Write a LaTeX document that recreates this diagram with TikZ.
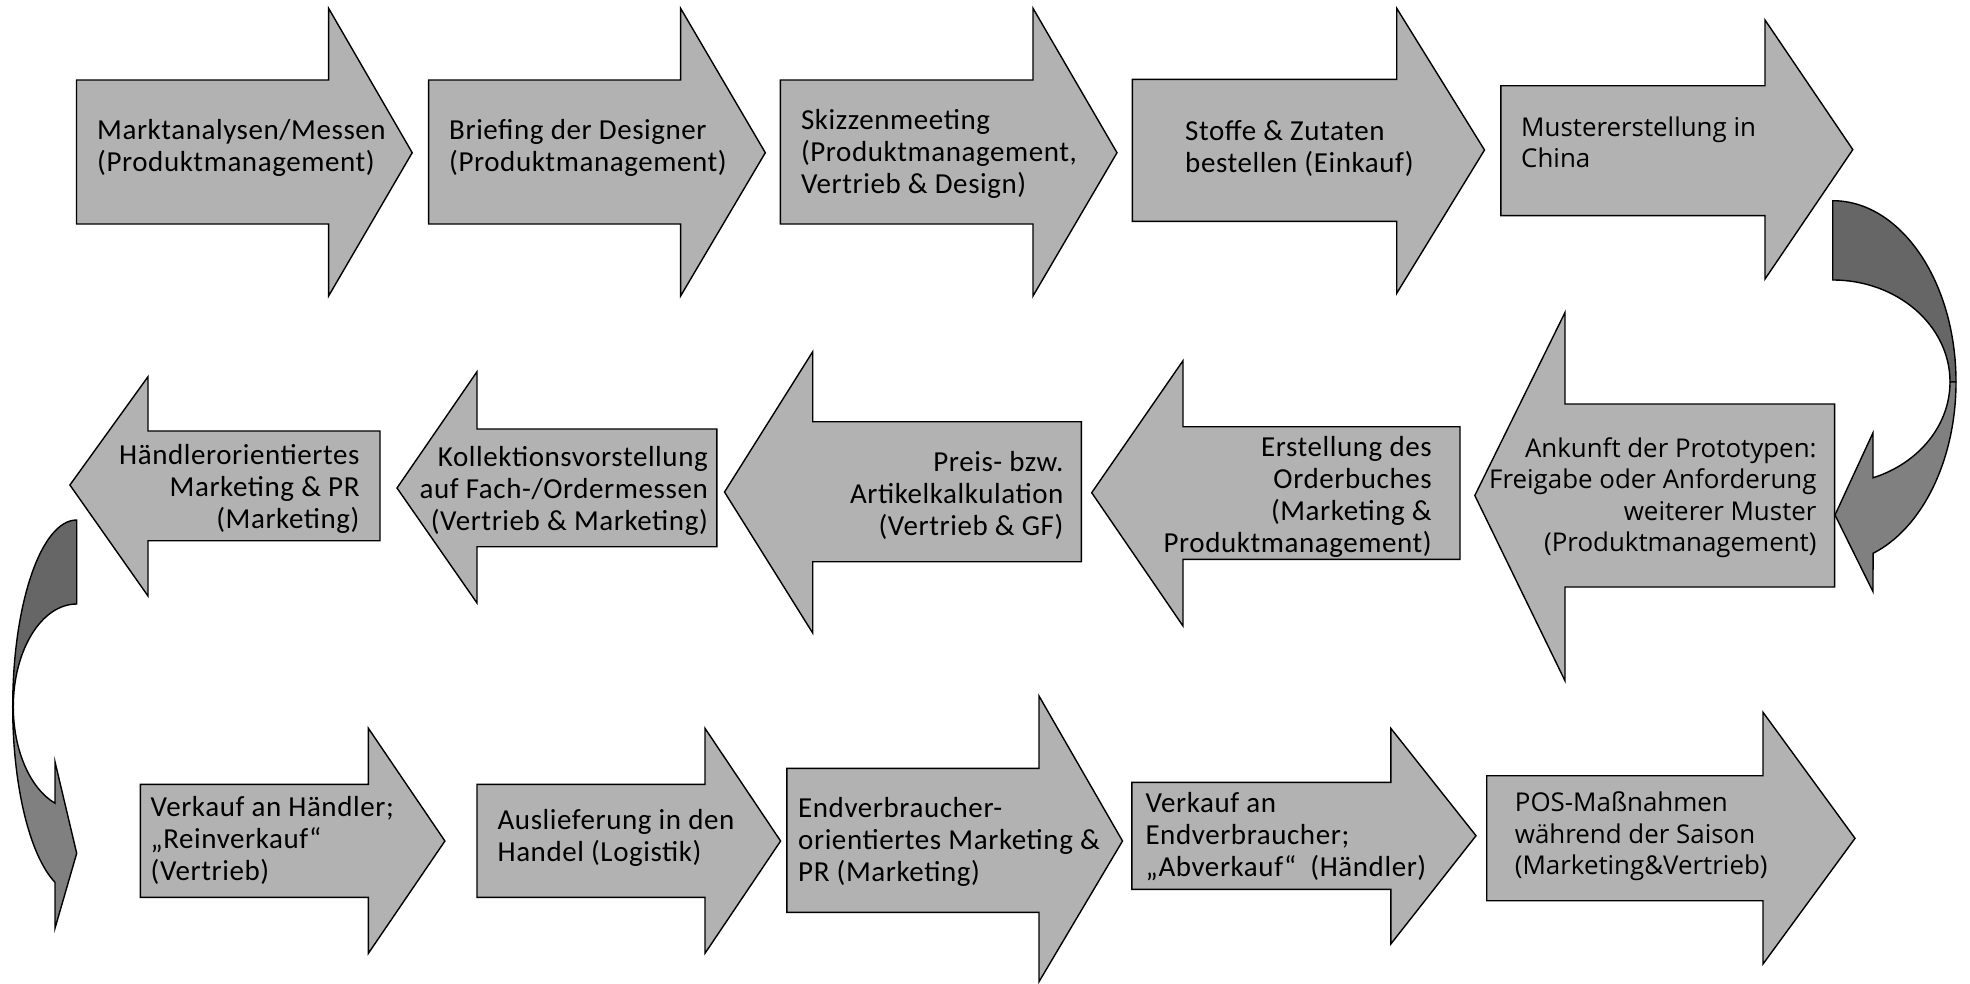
\documentclass[tikz,border=0pt]{standalone}
\usepackage{fontspec}
\setmainfont{Carlito}[LetterSpace=2.0]
\newfontfamily\widefont{Open Sans}
\definecolor{boxgray}{RGB}{178,178,178}
\definecolor{curvedark}{RGB}{102,102,102}
\definecolor{curvelight}{RGB}{128,128,128}
\newcommand\mainsize{\fontsize{29}{32}\selectfont}
\newcommand\widesize{\widefont\fontsize{25.9}{31.3}\selectfont}
\newcommand\boxtext[2]{\begin{tabular}[t]{@{}#1@{}}#2\end{tabular}}
% far edge, rect top, rect bottom, head base, head top, head bottom, tip x, tip y
\newcommand\flowarrow[8]{\path[flow] (#1,#2) -- (#4,#2) -- (#4,#5) -- (#7,#8) -- (#4,#6) -- (#4,#3) -- (#1,#3) -- cycle;}
\tikzset{
  flow/.style={draw=black, line width=1.4pt, fill=boxgray, line join=miter},
  backpart/.style={draw=black, line width=1.4pt, fill=curvedark},
  frontpart/.style={draw=black, line width=1.4pt, fill=curvelight},
  txt/.style={inner sep=0pt, font=\mainsize},
  wtxt/.style={inner sep=0pt, font=\widesize},
}
\begin{document}
\begin{tikzpicture}[x=1pt,y=-1pt]
\useasboundingbox (0,0) rectangle (1970,983);
% row 1
\flowarrow{76.5}{80}{224}{328.6}{8.3}{296}{412.2}{152.7}
\flowarrow{428.6}{80}{224}{680.6}{8.3}{296}{765.3}{152.7}
\flowarrow{780.4}{80}{224}{1033}{8.3}{296}{1117}{152.7}
\flowarrow{1132.4}{79.3}{221.3}{1396.7}{8.3}{293.3}{1484.5}{150}
\flowarrow{1500.8}{85.7}{215.6}{1765}{20}{279}{1852.8}{149.6}
% row 2
\flowarrow{1834.6}{404}{587}{1565}{312.5}{680.8}{1474.8}{495.5}
\flowarrow{1460}{426.7}{559.3}{1183}{360.7}{626}{1091.7}{492.7}
\flowarrow{1081.4}{421.7}{561.7}{812.7}{351.7}{633}{724.5}{492}
\flowarrow{716.8}{429}{546.7}{477}{371.7}{603}{397}{488}
\flowarrow{380}{431}{540.7}{148}{376.7}{596}{69.9}{485}
% row 3
\flowarrow{140.3}{784.3}{897.3}{368.4}{728.3}{953.3}{444.9}{841}
\flowarrow{477}{784.3}{897.3}{705}{728.3}{953.3}{780.6}{841}
\flowarrow{786.8}{768.3}{912.3}{1039}{696}{981.7}{1122.5}{841}
\flowarrow{1131.9}{782.3}{889.3}{1390.8}{728.3}{944}{1476}{835.7}
\flowarrow{1486.7}{775.7}{900.7}{1763}{712.3}{964}{1855}{838.3}
% right curved arrow
\path[backpart] (1832.7,200.7) arc[start angle=-90, end angle=0, x radius=123.3, y radius=181.3]
  -- (1950,382) arc[start angle=0, end angle=-90, x radius=117.3, y radius=102] -- cycle;
\path[frontpart] (1956,382) arc[start angle=0, end angle=70.9, x radius=123.3, y radius=181.3]
  -- (1873,591.7) -- (1835,515) -- (1873,432.7) -- (1873,477.8)
  arc[start angle=69.9, end angle=0, x radius=117.3, y radius=102] -- cycle;
% left curved arrow
\path[backpart] (76.7,520) arc[start angle=270, end angle=180, x radius=64, y radius=186.7]
  -- (13.3,706.7) arc[start angle=180, end angle=270, x radius=63.4, y radius=102.7] -- cycle;
\path[frontpart] (12.7,706.7) arc[start angle=180, end angle=109.8, x radius=64, y radius=186.7]
  -- (55,928.3) -- (76.7,853.3) -- (55,761.7) -- (55,803.2)
  arc[start angle=110, end angle=180, x radius=63.4, y radius=102.7] -- cycle;
% texts
\node[txt, anchor=base west] (t1) at (97,139.4) {\boxtext{l}{Marktanalysen/Messen\\(Produktmanagement)}};
\node[txt, anchor=base west] (t2) at (449,139.4) {\boxtext{l}{Briefing der Designer\\(Produktmanagement)}};
\node[txt, anchor=base west] (t3) at (800.8,129.4) {\boxtext{l}{Skizzenmeeting\\(Produktmanagement,\\Vertrieb \& Design)}};
\node[txt, anchor=base west] (t4) at (1185,140.4) {\boxtext{l}{Stoffe \& Zutaten\\bestellen (Einkauf)}};
\node[wtxt, anchor=base west] (t5) at (1521,136.2) {\boxtext{l}{Mustererstellung in\\China}};
\node[wtxt, anchor=base east] (t6) at (1816.7,457.6) {\boxtext{r}{Ankunft der Prototypen:\\Freigabe oder Anforderung\\weiterer Muster\\(Produktmanagement)}};
\node[txt, anchor=base east] (t7) at (1431.9,456) {\boxtext{r}{Erstellung des\\Orderbuches\\(Marketing \&\\Produktmanagement)}};
\node[txt, anchor=base east] (t8) at (1063.6,471) {\boxtext{r}{Preis- bzw.\\Artikelkalkulation\\(Vertrieb \& GF)}};
\node[txt, anchor=base east] (t9) at (708,466) {\boxtext{r}{Kollektionsvorstellung\\auf Fach-/Ordermessen\\(Vertrieb \& Marketing)}};
\node[txt, anchor=base east] (t10) at (359.7,464.4) {\boxtext{r}{Händlerorientiertes\\Marketing \& PR\\(Marketing)}};
\node[txt, anchor=base west] (t11) at (150.5,816) {\boxtext{l}{Verkauf an Händler;\\„Reinverkauf“\\(Vertrieb)}};
\node[txt, anchor=base west] (t12) at (497.4,829.4) {\boxtext{l}{Auslieferung in den\\Handel (Logistik)}};
\node[txt, anchor=base west] (t13) at (798,817.7) {\boxtext{l}{Endverbraucher-\\orientiertes Marketing \&\\PR (Marketing)}};
\node[txt, anchor=base west] (t14) at (1145.3,812.7) {\boxtext{l}{Verkauf an\\Endverbraucher;\\„Abverkauf“\ \ (Händler)}};
\node[wtxt, anchor=base west] (t15) at (1514.7,811.7) {\boxtext{l}{POS-Maßnahmen\\während der Saison\\(Marketing\&Vertrieb)}};
\end{tikzpicture}
\end{document}
